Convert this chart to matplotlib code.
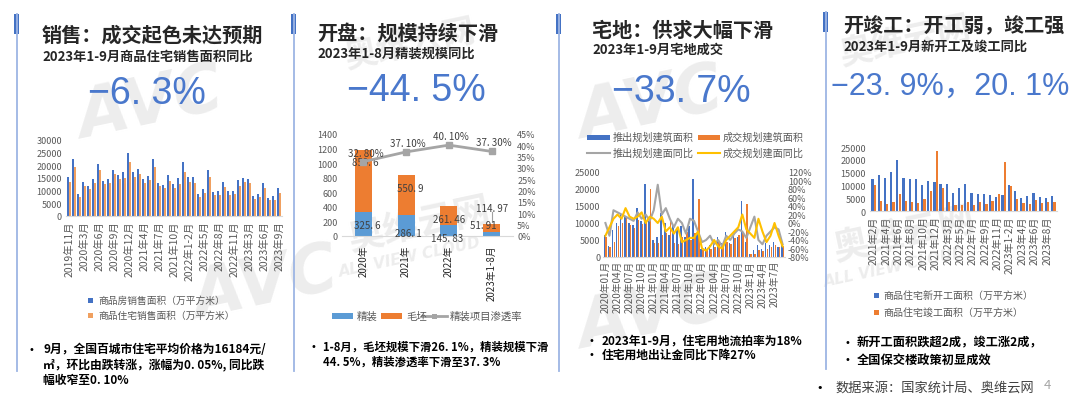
import matplotlib
matplotlib.use("Agg")
import matplotlib.pyplot as plt
from matplotlib.patches import Rectangle
from matplotlib.lines import Line2D
import numpy as np

plt.rcParams["font.family"] = ["Noto Sans CJK SC", "DejaVu Sans"]

W, H = 1080, 402
BLUE = "#4472C4"
ORANGE = "#ED7D31"
LBLUE = "#5B9BD5"
GRAY = "#A5A5A5"
YELLOW = "#FFC000"
NUM_BLUE = "#4A78CC"
TXT = "#262626"
TICK = "#595959"
MARK = "#EDEDED"

# ---- panel 1: 销售 ----
sales_ticks = ["2019年11月", "2020年3月", "2020年6月", "2020年9月", "2020年12月",
               "2021年4月", "2021年7月", "2021年10月", "2022年1-2月", "2022年5月",
               "2022年8月", "2022年11月", "2023年3月", "2023年6月", "2023年9月"]
sales_all = [15500, 22500, 8500, 13500, 12000, 14500, 20500, 14000, 14800, 18000,
             16300, 17500, 25000, 17300, 18500, 14500, 15800, 22500, 13000, 12300,
             16000, 12500, 15000, 21200, 15500, 15500, 8800, 10800, 18000, 9500,
             9800, 13500, 9700, 10000, 14300, 15100, 14600, 7800, 8800, 13200,
             7300, 7700, 10900]
sales_res = [13500, 19500, 7500, 12000, 10800, 13000, 18000, 12500, 13200, 16500,
             14500, 15000, 21500, 15500, 16500, 13000, 14300, 19500, 11800, 11000,
             13800, 11000, 12800, 17200, 13400, 13000, 7500, 9200, 15200, 8100,
             8400, 11300, 8300, 8500, 12000, 13600, 13000, 6600, 7500, 11000,
             6300, 6500, 9000]

# ---- panel 2: 开盘 ----
open_years = ["2020年", "2021年", "2022年", "2023年1-8月"]
open_fine = [325.6, 286.1, 145.83, 51.91]
open_rough = [859.6, 550.9, 261.46, 114.97]
open_rate = [32.80, 37.10, 40.10, 37.30]

# ---- panel 3: 宅地 ----
land_ticks = ["2020年01月", "2020年04月", "2020年07月", "2020年10月", "2021年01月",
              "2021年04月", "2021年07月", "2021年10月", "2022年01月", "2022年04月",
              "2022年07月", "2022年10月", "2023年1月", "2023年4月", "2023年7月"]
land_push = [6500, 3200, 8000, 10000, 12800, 12000, 10000, 9500, 14500, 10500,
             21500, 10500, 5000, 5800, 12800, 10000, 6500, 9500, 8000, 9000,
             6000, 9000, 23000, 7000, 2500, 3000, 3500, 5000, 6000, 4000,
             7500, 4000, 6500, 6000, 16500, 4500, 1000, 2000, 3500, 2500,
             4000, 3500, 4300, 3000, 3500]
land_deal = [6000, 3000, 4500, 9000, 10000, 11500, 9500, 8500, 11000, 9800,
             10000, 20000, 4000, 4200, 6500, 7000, 11000, 4000, 3800, 6000,
             7500, 5000, 7000, 17000, 2000, 2200, 2500, 3000, 4500, 3500,
             4500, 3800, 5500, 6500, 7000, 15500, 1000, 800, 2000, 1800,
             2500, 3000, 3500, 2800, 3200]
land_push_yoy = [0, -30, 30, 25, 20, 15, 10, 5, 25, 10, 20, 5, 30, 90, 20,
                 35, 10, -10, 10, 0, -25, 10, 5, -20, -45, -40, -30, -50, -40, -55,
                 -30, -40, -25, -15, -20, -35, -10, 15, -40, -50, -30, -20, -10, -15, -50]
land_deal_yoy = [-30, -10, 10, 20, 10, 35, 15, 10, 15, 25, 0, 15, 10, 0, 15,
                 -20, -10, -25, -10, -45, -40, -35, -35, -20, -60, -65, -55, -40, -55, -60,
                 -40, -30, -20, -10, 20, -15, -25, -35, 10, -20, -45, -30, 0, -30, -55]

# ---- panel 4: 开竣工 ----
build_ticks = ["2021年2月", "2021年4月", "2021年6月", "2021年8月", "2021年10月",
               "2021年12月", "2022年3月", "2022年5月", "2022年7月", "2022年9月",
               "2022年11月", "2023年1-2月", "2023年4月", "2023年6月", "2023年8月"]
build_start = [12600, 14200, 13000, 15100, 20000, 12800, 12400, 12500, 10200, 11700,
               11500, 10600, 10600, 7200, 9000, 10700, 7000, 6600, 6800, 6300,
               5600, 6300, 10000, 7800, 5200, 6000, 7000, 5300, 4900, 5800]
build_done = [10000, 4000, 2600, 3400, 6500, 4000, 3500, 3200, 4700, 8000,
              23500, 9000, 3400, 2400, 2500, 3500, 2500, 3500, 2700, 4100,
              6500, 19000, 9700, 4500, 3200, 2800, 4300, 3300, 3500, 3500]

fig = plt.figure(figsize=(W / 100, H / 100), dpi=100)
fig.patch.set_facecolor("white")


def px_axes(x0, y0, x1, y1):
    return fig.add_axes([x0 / W, 1 - y1 / H, (x1 - x0) / W, (y1 - y0) / H])


def px_text(x, y, s, **kw):
    kw.setdefault("va", "center")
    return fig.text(x / W, 1 - y / H, s, **kw)


def px_rect(x0, y0, x1, y1, color):
    fig.add_artist(Rectangle((x0 / W, 1 - y1 / H), (x1 - x0) / W, (y1 - y0) / H,
                             transform=fig.transFigure, color=color, lw=0))


def px_line(x0, y0, x1, y1, **kw):
    fig.add_artist(Line2D([x0 / W, x1 / W], [1 - y0 / H, 1 - y1 / H],
                          transform=fig.transFigure, **kw))


def excel_style(ax, pad=2):
    for s in ["top", "right", "left"]:
        ax.spines[s].set_visible(False)
    ax.spines["bottom"].set_color("#D9D9D9")
    ax.spines["bottom"].set_linewidth(0.8)
    ax.tick_params(length=0, labelsize=6.5, colors=TICK, pad=pad)
    ax.set_facecolor("none")


def panel_frame(x, top, bottom, title, ty, sub, sy, tx):
    px_line(x, top, x, bottom, color="#9DB5E4", lw=1.3)
    px_rect(x - 3.5, top, x + 1.5, top + 20, BLUE)
    px_text(tx, ty, title, fontsize=14.5, fontweight="bold", color=TXT)
    px_text(tx, sy, sub, fontsize=9.5, fontweight="bold", color=TXT)


def big_number(x, y, s, size=27):
    px_text(x, y, s, fontsize=size, color=NUM_BLUE,
            family=["Liberation Sans", "Noto Sans CJK SC"])


def bullets(lines, size=8.5):
    for bx, tx, y, s in lines:
        if bx is not None:
            px_text(bx, y, "•", fontsize=7, color="black", family=["DejaVu Sans"])
        px_text(tx, y, s, fontsize=size, fontweight="bold", color="black")


def watermark(x, y, s, size, rot=12):
    t = px_text(x, y, s, fontsize=size, color=MARK, fontweight="bold",
                style="italic", rotation=rot, ha="center", zorder=-5,
                family=["DejaVu Sans", "Noto Sans CJK SC"])
    return t


# faint background watermarks
watermark(150, 105, "AVC", 48)
watermark(265, 285, "AVC", 48)
watermark(410, 45, "奥维云网", 24)
watermark(420, 225, "奥维云网", 26)
watermark(410, 258, "ALL VIEW CLOUD", 11)
watermark(650, 105, "AVC", 48)
watermark(650, 315, "AVC", 48)
watermark(905, 42, "奥维云网", 24)
watermark(905, 235, "奥维云网", 26)
watermark(895, 268, "ALL VIEW CLOUD", 11)

# ================= panel 1 =================
panel_frame(17, 15, 372, "销售：成交起色未达预期", 35,
            "2023年1-9月商品住宅销售面积同比", 57, 42)
big_number(88, 94, "−6. 3%")

ax1 = px_axes(66, 141, 282, 217)
excel_style(ax1, pad=3)
x = np.arange(len(sales_all))
ax1.bar(x - 0.2, sales_all, 0.36, color=BLUE, lw=0)
ax1.bar(x + 0.2, sales_res, 0.36, color="#F0A060", lw=0)
ax1.set_xlim(-0.6, len(sales_all) - 0.4)
ax1.set_ylim(0, 30000)
ax1.set_yticks(range(0, 30001, 5000))
ax1.set_xticks(range(0, len(sales_all), 3))
ax1.set_xticklabels(sales_ticks, rotation=90, fontsize=7.5)

px_rect(88, 298.5, 93, 303.5, BLUE)
px_text(98, 301, "商品房销售面积（万平方米）", fontsize=7, color=TICK)
px_rect(88, 313.5, 93, 318.5, "#F0A060")
px_text(98, 316, "商品住宅销售面积（万平方米）", fontsize=7, color=TICK)

bullets([(29, 43, 350, "9月，全国百城市住宅平均价格为16184元/"),
         (None, 43, 365, "㎡，环比由跌转涨，涨幅为0. 05%, 同比跌"),
         (None, 43, 380, "幅收窄至0. 10%")])

# ================= panel 2 =================
panel_frame(294, 15, 372, "开盘：规模持续下滑", 33,
            "2023年1-8月精装规模同比", 54, 317)
big_number(347, 91, "−44. 5%")

ax2 = px_axes(342, 135, 513, 237)
excel_style(ax2, pad=6)
xi = np.arange(len(open_years))
ax2.bar(xi, open_fine, 0.4, color=LBLUE, lw=0)
ax2.bar(xi, open_rough, 0.4, bottom=open_fine, color=ORANGE, lw=0)
ax2.set_xlim(-0.5, len(open_years) - 0.5)
ax2.set_ylim(0, 1400)
ax2.set_yticks(range(0, 1401, 200))
ax2.set_xticks(xi)
ax2.set_xticklabels(open_years, rotation=90, fontsize=7, color=TXT)
ax2.tick_params(axis="y", pad=3)
ax2b = ax2.twinx()
excel_style(ax2b, pad=3)
ax2b.spines["bottom"].set_visible(False)
ax2b.plot(xi, open_rate, color=GRAY, lw=2, marker="s", ms=4)
ax2b.set_ylim(0, 45)
ax2b.set_yticks(range(0, 46, 5))
ax2b.set_yticklabels([f"{v}%" for v in range(0, 46, 5)])

lab = dict(fontsize=7, color="#404040", ha="center", va="center", clip_on=False)
fine_pos = [(0.1, 150), (0.05, 45), (-0.05, -22), (-0.2, 150)]
rough_pos = [(0.05, 1010), (0.1, 665), (0.0, 230), (0.0, 380)]
for i in xi:
    ax2.text(i + fine_pos[i][0], fine_pos[i][1], f"{open_fine[i]:g}".replace(".", ". "), **lab)
    ax2.text(i + rough_pos[i][0], rough_pos[i][1], f"{open_rough[i]:g}".replace(".", ". "), **lab)
    ax2b.text(i + 0.05, open_rate[i] + 4, f"{open_rate[i]:.2f}%".replace(".", ". "), **lab)
ax2.plot([3, 3], [190, 330], color="#A0A0A0", lw=0.8)

px_rect(332, 314, 353, 320, LBLUE)
px_text(357, 317, "精装", fontsize=7.5, color=TICK)
px_rect(381, 314, 402, 320, ORANGE)
px_text(406, 317, "毛坯", fontsize=7.5, color=TICK)
px_line(422, 317, 447, 317, color=GRAY, lw=2)
px_rect(432, 315, 436.5, 319.5, GRAY)
px_text(450, 317, "精装项目渗透率", fontsize=7.5, color=TICK)

bullets([(311, 323, 347, "1-8月，毛坯规模下滑26. 1%，精装规模下滑"),
         (None, 323, 362, "44. 5%，精装渗透率下滑至37. 3%")], size=8.2)

# ================= panel 3 =================
panel_frame(559, 15, 372, "宅地：供求大幅下滑", 30,
            "2023年1-9月宅地成交", 50, 592)
big_number(612, 92, "−33. 7%")

ax3 = px_axes(603, 173, 785, 258)
excel_style(ax3)
x3 = np.arange(len(land_push))
ax3.bar(x3 - 0.2, land_push, 0.38, color=BLUE, lw=0)
ax3.bar(x3 + 0.2, land_deal, 0.38, color=ORANGE, lw=0)
ax3.set_xlim(-0.6, len(land_push) - 0.4)
ax3.set_ylim(0, 25000)
ax3.set_yticks(range(0, 25001, 5000))
ax3.set_xticks(range(0, len(land_push), 3))
ax3.set_xticklabels(land_ticks, rotation=90, fontsize=7)
ax3b = ax3.twinx()
excel_style(ax3b)
ax3b.spines["bottom"].set_visible(False)
ax3b.plot(x3, land_push_yoy, color=GRAY, lw=1.5)
ax3b.plot(x3, land_deal_yoy, color=YELLOW, lw=1.5)
ax3b.set_ylim(-80, 120)
ax3b.set_yticks(range(-80, 121, 20))
ax3b.set_yticklabels([f"{v}%" for v in range(-80, 121, 20)])

px_rect(587, 135.5, 610, 140.5, BLUE)
px_text(613, 138, "推出规划建筑面积", fontsize=7.3, color=TICK)
px_rect(698, 135.5, 720, 140.5, ORANGE)
px_text(723, 138, "成交规划建筑面积", fontsize=7.3, color=TICK)
px_line(587, 154, 610, 154, color=GRAY, lw=1.5)
px_text(613, 154, "推出规划建面同比", fontsize=7.3, color=TICK)
px_line(698, 154, 720, 154, color=YELLOW, lw=1.5)
px_text(723, 154, "成交规划建面同比", fontsize=7.3, color=TICK)

bullets([(589, 602, 341, "2023年1-9月，住宅用地流拍率为18%"),
         (589, 602, 355, "住宅用地出让金同比下降27%")])

# ================= panel 4 =================
panel_frame(826, 13, 370, "开竣工：开工弱，竣工强", 26,
            "2023年1-9月新开工及竣工同比", 47, 843)
big_number(831, 87, "−23. 9%，20. 1%", size=22)

ax4 = px_axes(870, 148, 1057, 212)
excel_style(ax4, pad=3)
x4 = np.arange(len(build_start))
ax4.bar(x4 - 0.2, build_start, 0.36, color=BLUE, lw=0)
ax4.bar(x4 + 0.2, build_done, 0.36, color=ORANGE, lw=0)
ax4.set_xlim(-0.6, len(build_start) - 0.4)
ax4.set_ylim(0, 25000)
ax4.set_yticks(range(0, 25001, 5000))
ax4.set_xticks(range(0, len(build_start), 2))
ax4.set_xticklabels(build_ticks, rotation=90, fontsize=7.3)

px_rect(874, 293.5, 879, 298.5, BLUE)
px_text(883, 296, "商品住宅新开工面积（万平方米）", fontsize=7.2, color=TICK)
px_rect(874, 310.5, 879, 315.5, ORANGE)
px_text(883, 313, "商品住宅竣工面积（万平方米）", fontsize=7.2, color=TICK)

bullets([(844, 857, 343, "新开工面积跌超2成，竣工涨2成，"),
         (844, 857, 360, "全国保交楼政策初显成效")], size=8.8)

px_text(816, 388, "•", fontsize=8, color="black", family=["DejaVu Sans"])
px_text(835, 388, "数据来源：国家统计局、奥维云网", fontsize=9.5, color="#404040")
px_text(1044, 386, "4", fontsize=9.5, color="#A6A6A6")

fig.savefig("out.png", dpi=100, facecolor="white")
plt.close(fig)
